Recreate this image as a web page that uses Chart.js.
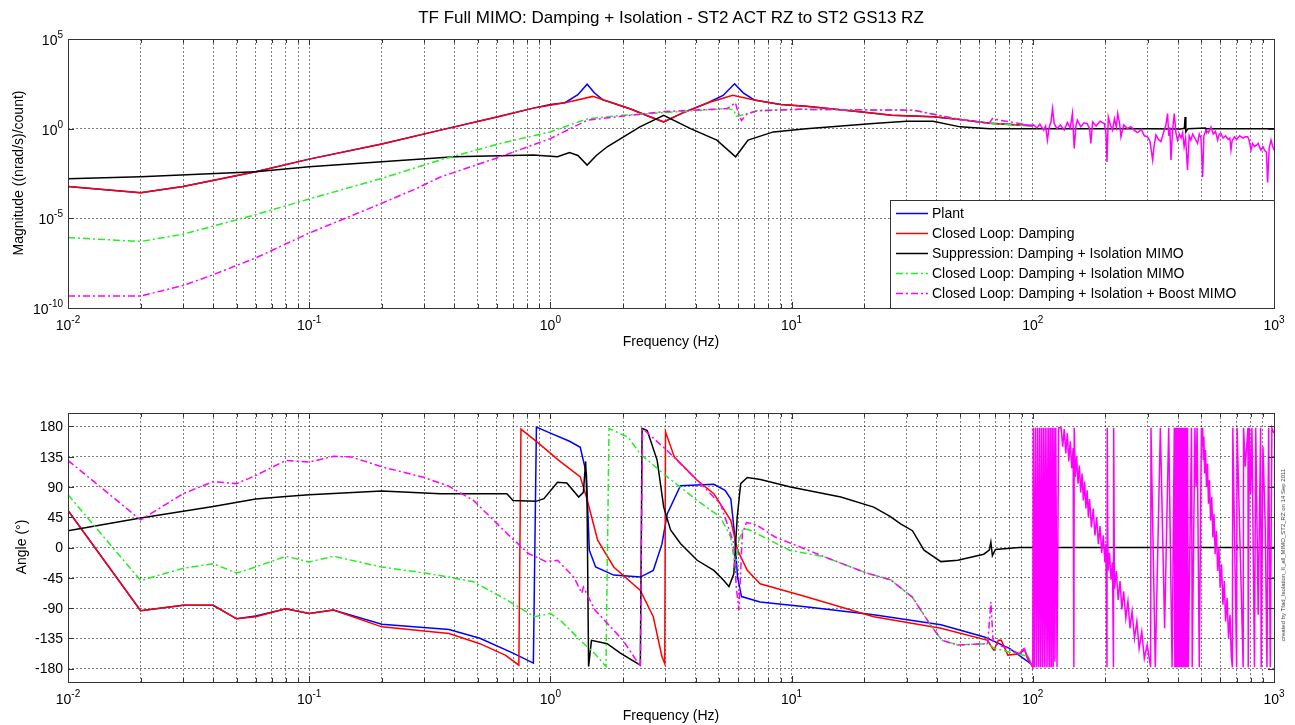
<!DOCTYPE html>
<html>
<head>
<meta charset="utf-8">
<script src="https://cdn.jsdelivr.net/npm/chart.js@4.4.1/dist/chart.umd.min.js"></script>
<style>
html, body { margin: 0; padding: 0; background: #fff; }
body { width: 1295px; height: 725px; position: relative; overflow: hidden; font-family: "Liberation Sans", Arial, sans-serif; }
#magCanvas { position: absolute; left: 0; top: 0; }
#phaseCanvas { position: absolute; left: 0; top: 362px; }
.lbl { position: absolute; color: #000; white-space: nowrap; }
</style>
</head>
<body>
<canvas id="magCanvas" width="1295" height="360"></canvas>
<canvas id="phaseCanvas" width="1295" height="363"></canvas>

<div class="lbl" style="left:68px;width:1206px;top:8px;text-align:center;font-size:17px;">TF Full MIMO: Damping + Isolation - ST2 ACT RZ to ST2 GS13 RZ</div>
<div class="lbl" style="left:68px;width:1206px;top:333px;text-align:center;font-size:14px;">Frequency (Hz)</div>
<div class="lbl" style="left:68px;width:1206px;top:707px;text-align:center;font-size:14px;">Frequency (Hz)</div>
<div class="lbl" style="left:18px;top:173px;font-size:14px;transform:translate(-50%,-50%) rotate(-90deg);">Magnitude ((nrad/s)/count)</div>
<div class="lbl" style="left:21px;top:547px;font-size:14px;transform:translate(-50%,-50%) rotate(-90deg);">Angle (°)</div>
<div class="lbl" style="left:1283px;top:555px;font-size:6px;color:#444;transform:translate(-50%,-50%) rotate(-90deg);">created by Tfad_Isolation_II_all_MIMO_ST2_RZ on 14 Sep 2011</div>

<script>
// ---- magnitude data (frequency in Hz, magnitude in (nrad/s)/count) ----
const magPlantF = [0.01, 0.02, 0.03, 0.06, 0.1, 0.2, 0.35, 0.6, 0.85, 1.0, 1.15, 1.3, 1.42, 1.52, 1.65, 1.8, 2.15, 2.6, 2.95, 3.5, 4.5, 5.2, 5.8, 6.3, 7, 9, 11.5, 20.5, 26, 38.6, 50, 66, 100];
const magPlant = [5.9e-4, 2.7e-4, 5.9e-4, 4.0e-3, 2.0e-2, 0.14, 0.83, 4.5, 14, 22, 28, 79, 300, 100, 40, 28, 12.6, 4.5, 2.4, 7.1, 28, 71, 316, 100, 40, 22.4, 17.8, 7.9, 5.6, 4.6, 3.2, 2.0, 1.45];

const magDampF = [0.01, 0.02, 0.03, 0.06, 0.1, 0.2, 0.35, 0.6, 0.85, 1.0, 1.2, 1.5, 1.8, 2.15, 2.6, 2.95, 3.5, 4.5, 5.7, 7, 9, 11.5, 20.5, 26, 38.6, 50, 66, 100];
const magDamp = [5.9e-4, 2.7e-4, 5.9e-4, 4.0e-3, 2.0e-2, 0.14, 0.83, 4.5, 14, 20.4, 31.6, 63, 28, 12.6, 4.5, 2.4, 7.1, 28, 72, 40, 22.4, 17.8, 7.9, 5.6, 4.6, 3.2, 2.0, 1.45];

const magSuppF = [0.01, 0.02, 0.06, 0.1, 0.2, 0.4, 0.85, 1.07, 1.2, 1.3, 1.42, 1.55, 1.72, 2.35, 2.95, 3.81, 4.9, 5.86, 6.6, 8.4, 11.5, 21.8, 30, 38.6, 50, 66, 100, 200, 300, 410, 425, 428, 431, 440, 520, 522, 525, 700, 1000];
const magSupp = [1.6e-3, 2.1e-3, 4.0e-3, 7.6e-3, 1.45e-2, 2.7e-2, 3.4e-2, 2.7e-2, 4.6e-2, 3.2e-2, 9.3e-3, 3.2e-2, 9.8e-2, 1.26, 5.6, 1.0, 0.23, 2.7e-2, 0.23, 0.66, 1.0, 1.95, 2.6, 2.6, 1.26, 1.0, 1.0, 1.0, 1.0, 0.97, 1.05, 4.5, 0.65, 1.0, 1.1, 0.9, 1.0, 1.0, 1.0];

const magIsoF = [0.01, 0.02, 0.03, 0.06, 0.1, 0.2, 0.35, 0.62, 1.0, 1.42, 2.0, 3.0, 5.4, 5.75, 5.9, 6.2, 7.2, 10.8, 20, 32, 50, 66, 100];
const magIso = [8.5e-7, 5.1e-7, 1.3e-6, 1.6e-5, 1.2e-4, 1.7e-3, 1.8e-2, 0.15, 0.66, 3.5, 5.6, 7.9, 13.2, 11.2, 5.0, 5.6, 10, 12, 11.2, 10.7, 3.2, 2.0, 1.38];

const magBoostF = [0.01, 0.02, 0.03, 0.04, 0.06, 0.1, 0.2, 0.28, 0.35, 0.62, 1.0, 1.42, 2.15, 2.95, 5.4, 5.85, 6.0, 6.2, 6.5, 7.2, 10.8, 20, 32, 50, 66, 68, 75,
  89, 95, 101, 104, 107, 111, 113, 115, 117, 119, 120.7, 122.7, 126, 130, 135, 139, 143, 146, 148.5, 151, 153, 158, 163, 168, 172, 174, 177, 183, 190, 198, 201, 203, 205.6, 210, 214, 218, 222, 225, 229, 232, 238, 247, 255, 263, 272, 282, 290, 299, 306, 314, 318, 324, 332, 340, 348, 356, 362, 366, 370, 374, 380, 386, 392, 398, 405, 412, 418, 424, 430, 438, 445, 452, 460, 470, 482, 490, 498, 506, 512, 522, 535, 548, 560, 572, 584, 593, 603, 615, 630, 645, 656, 663, 670, 685, 700, 720, 745, 760, 778, 790, 803, 815, 829, 845, 860, 872, 884, 900, 915, 930, 941, 955, 972, 985, 1000];
const magBoost = [4.6e-10, 4.6e-10, 1.8e-9, 7.2e-9, 6.2e-8, 1.5e-6, 6.9e-5, 4.8e-4, 2.0e-3, 2.7e-2, 0.28, 2.95, 5.6, 8.9, 13.2, 28, 7.9, 2.8, 6.3, 10, 12, 11.2, 10.7, 3.2, 2.0, 3.6, 2.8,
  1.9, 1.5, 1.6, 1.1, 1.8, 0.83, 1.4, 0.23, 1.2, 2.4, 13, 1.9, 1.0, 1.6, 0.83, 2.2, 1.1, 7.0, 0.08, 1.5, 3.0, 1.3, 2.1, 1.9, 1.0, 0.15, 2.4, 1.4, 2.6, 1.9, 0.6, 0.014, 4.5, 1.5, 0.83, 3.5, 1.2, 7.0, 2.0, 0.35, 1.6, 1.0, 1.3, 0.83, 0.6, 0.9, 0.4, 0.35, 0.2, 0.018, 0.1, 0.45, 0.25, 0.19, 0.6, 1.5, 7.0, 0.4, 1.2, 0.018, 0.9, 7.0, 0.6, 0.23, 0.5, 0.3, 0.6, 0.1, 0.3, 0.005, 0.4, 0.23, 0.5, 0.3, 0.15, 0.5, 0.3, 0.002, 0.4, 0.83, 0.6, 1.24, 0.5, 0.7, 0.23, 0.5, 0.53, 0.3, 0.4, 0.25, 0.3, 0.064, 0.2, 0.35, 0.25, 0.4, 0.3, 0.35, 0.35, 0.2, 0.064, 0.15, 0.1, 0.12, 0.15, 0.09, 0.064, 0.1, 0.06, 0.05, 0.001, 0.08, 0.23, 0.12, 0.064];

// ---- phase data (frequency in Hz, angle in degrees) ----
const phPlantF = [0.01, 0.02, 0.03, 0.04, 0.05, 0.06, 0.08, 0.1, 0.126, 0.2, 0.38, 0.51, 0.7, 0.85, 0.875, 1.0, 1.2, 1.33, 1.41, 1.45, 1.54, 1.83, 2.36, 2.67, 2.9, 3.05, 3.46, 4.76, 5.3, 5.6, 5.8, 5.97, 6.2, 7.4, 11.4, 21.9, 41.6, 63, 80, 100];
const phPlant = [55, -94, -86, -86, -106, -102, -91, -98, -93, -114, -122, -135, -157, -172, 179, 170, 158, 149, 110, -4, -29, -41, -44, -34, 5, 50, 92, 94, 85, 72, 20, -44, -73, -81, -88, -100, -115, -133, -150, -175];

const phDampF = [0.01, 0.02, 0.03, 0.04, 0.05, 0.06, 0.08, 0.1, 0.126, 0.2, 0.38, 0.51, 0.65, 0.74, 0.755, 0.9, 1.08, 1.33, 1.41, 1.57, 1.83, 2.36, 2.67, 2.9, 2.98, 3.0, 3.27, 4.06, 4.76, 5.6, 5.97, 6.55, 7.4, 11.4, 21.9, 41.6, 65, 68, 69, 72, 74, 78.8, 88, 92.5, 95, 100];
const phDamp = [55, -94, -86, -86, -106, -103, -91, -98, -93, -118, -128, -143, -160, -175, 176, 154, 130, 105, 75, 11, -29, -64, -103, -162, -173, 172, 134, 100, 80, 40, -4, -34, -54, -73, -103, -120, -138, -150, -153, -138, -138, -160, -158, -152, -165, -178];

const phSuppF = [0.01, 0.02, 0.04, 0.06, 0.08, 0.1, 0.2, 0.35, 0.66, 0.70, 0.87, 0.94, 1.07, 1.17, 1.31, 1.37, 1.40, 1.42, 1.44, 1.48, 1.72, 1.95, 2.36, 2.40, 2.52, 2.77, 2.95, 3.15, 3.46, 4.06, 4.76, 5.2, 5.5, 5.76, 5.95, 6.15, 6.55, 7.43, 9.9, 16, 21.9, 25.7, 28.3, 31.7, 35.4, 41.6, 48.9, 62.6, 66, 67, 68, 70, 87.7, 100, 120, 121, 122, 123, 200, 420, 421, 422, 423, 700, 701, 702, 703, 1000];
const phSupp = [25, 44, 61, 72, 76, 78.5, 84, 80, 80, 70, 68.6, 72.6, 97, 96, 75, 82, 128, 60, -177, -138, -143, -157, -175, 177, 174, 130, 60, 26, 6, -19, -34, -48, -58, -39, 45, 95, 104, 101, 90, 75, 60, 46, 35, 25, -4, -21, -19, -10, -4, 8, -12, -3, 0, 0, 0, 4, -4, 0, 0, 0, 5, -5, 0, 0, 4, -4, 0, 0];

const phIsoF = [0.01, 0.02, 0.03, 0.04, 0.05, 0.06, 0.08, 0.1, 0.126, 0.2, 0.3, 0.38, 0.48, 0.66, 0.86, 1.0, 1.12, 1.33, 1.53, 1.7, 1.75, 2.1, 2.36, 3.05, 4.06, 5.07, 5.58, 5.85, 6.05, 6.3, 6.7, 9.8, 13.7, 20.5, 25.7, 31.7, 37.6, 42, 48.9, 65, 69.3, 78.8, 95.6, 100];
const phIso = [78.5, -49, -31, -24, -38, -29, -13, -21.5, -13, -29, -38, -44, -51, -78, -103, -98, -111, -138, -158, -177, 177, 164, 139, 105, 70, 45, 16, -29, 11, 28, 26, -4, -14, -38, -48, -74, -115, -138, -145, -143, -150, -155, -162, -178];

const phBoostF = [0.01, 0.02, 0.03, 0.04, 0.05, 0.06, 0.08, 0.1, 0.126, 0.15, 0.2, 0.3, 0.38, 0.48, 0.66, 0.81, 0.96, 1.07, 1.25, 1.35, 1.37, 1.53, 2.0, 2.36, 2.41, 3.05, 4.06, 5.07, 5.76, 5.9, 6.05, 6.25, 6.5, 6.75, 7.2, 8.5, 13.7, 20.5, 25.7, 31.7, 37.6, 42, 48.9, 65, 67, 68.5, 72, 78.8, 88, 92, 95];
const phBoost = [129.5, 41, 80, 98, 95, 107, 129.5, 127, 135.5, 134.5, 120, 104, 91, 70, 21, -9, -21, -19, -44, -68, -59, -93, -138, -177, 177, 144, 100, 65, 6, -60, -93, 21, 37, 36, 33, 16, -14, -38, -48, -74, -115, -138, -145, -143, -81, -140, -145, -150, -158, -150, -162];

// wrapped, noisy phase above 100 Hz
const phBoostHfF = [
  100, 100.5, 101.5, 102.5, 103.5, 104.5, 105.5, 106.5, 107.5, 108.5, 109.5, 110.5, 111.5, 112.5, 113.5, 114.5, 115.5, 116.5, 117.5, 118.5, 119.5, 120.5, 121.5, 122.5, 123.5, 124.5, 126, 128,
  131, 133, 135, 137, 139, 141, 143, 145, 147, 148, 148.5, 150, 152, 154, 156, 158, 160, 162, 164, 166, 168, 170, 172, 175, 178, 181, 184, 187, 190, 193, 196, 199, 201, 203, 203.5, 205, 208, 211, 214, 216, 216.5, 218, 222, 226, 230, 234, 238, 243, 248, 253, 258, 264, 270, 276, 283, 290, 298, 308,
  309, 322, 338, 352, 366, 378, 386,
  388, 390, 392, 394, 396, 398, 400, 402, 404, 406, 408.5, 411, 413.5, 416, 418.5, 421, 423.5, 426, 429, 432, 435, 438, 441,
  455, 458, 470, 475, 480, 490, 500,
  503, 506, 509, 512, 516, 520, 525, 530, 535, 540, 546, 552, 558, 564, 570, 577, 584, 591, 598, 606, 614, 622, 630, 639, 648, 657, 665, 672,
  675, 700, 703, 745, 748, 760, 780, 782, 790, 800, 810, 830, 840, 860, 880, 885, 900, 920, 935, 950, 965, 980, 1000];
const phBoostHf = [
  -178, 178, -178, 178, -178, 178, -178, 178, -178, 178, -178, 178, -178, 178, -178, 178, -178, 178, -178, 178, -178, 178, -178, 178, -170, 178, -178, 178,
  178, 150, 176, 140, 170, 128, 158, 118, 148, -178, 178, 105, 135, 95, 122, 82, 110, 70, 98, 58, 85, 45, 72, 30, 58, 18, 45, 5, 32, -8, 18, -22, 5, -178, 178, -35, -8, -48, -22, -178, 178, -62, -35, -78, -50, -92, -65, -105, -80, -120, -95, -135, -110, -150, -125, -165, -145, -178,
  178, -178, 178, -120, 178, -178, 178,
  -178, 178, -178, 178, -178, 178, -178, 178, -178, 178, -178, 178, -178, 178, -178, 178, -178, 178, -178, 178, -178, 178, -178,
  178, -178, 178, 90, 178, -178, 178,
  150, 178, 130, 165, 110, 145, 90, 125, 65, 100, 40, 75, 15, 50, -10, 25, -35, 0, -60, -25, -85, -50, -110, -75, -135, -100, -160, -178,
  178, -178, 178, -178, 178, 120, 178, -178, 178, 80, 178, -178, 178, -100, 178, -178, 150, 30, -178, 178, -178, 178, 170];

// ---- axis ticks ----
const freqTicks = [];
for (let e = -2; e <= 2; e++) {
  for (let m = 1; m <= 9; m++) freqTicks.push(Number((m * Math.pow(10, e)).toPrecision(3)));
}
freqTicks.push(1000);
const magTicks = [1e-10, 1e-5, 1, 1e5];
const magTickExp = [-10, -5, 0, 5];
const phaseTicks = [-180, -135, -90, -45, 0, 45, 90, 135, 180];

const FONT = '"Liberation Sans", Arial, sans-serif';
const gridColor = 'rgba(0,0,0,0.5)';
const dashDot = [7, 3, 2, 3];

Chart.defaults.font.family = FONT;

function pts(fs, vs) {
  return fs.map((f, i) => ({ x: f, y: vs[i] }));
}

function makeSet(label, color, data, order, dashed) {
  const d = {
    label: label,
    data: data,
    borderColor: color,
    backgroundColor: color,
    borderWidth: 1.5,
    pointRadius: 0,
    tension: 0,
    fill: false,
    order: order,
    borderDash: dashed ? dashDot : []
  };
  if (dashed) {
    // noisy high-frequency part is drawn solid, like the measured trace
    d.segment = { borderDash: c => (c.p0.parsed.x >= 80 ? [] : dashDot) };
  }
  return d;
}

function freqScale(h) {
  return {
    type: 'logarithmic',
    min: 0.01,
    max: 1000,
    afterBuildTicks: s => { s.ticks = freqTicks.map(v => ({ value: v })); },
    afterFit: s => { s.height = h; },
    ticks: { display: false },
    grid: { color: gridColor, drawTicks: false, lineWidth: 1 },
    border: { display: false, dash: [2, 2] }
  };
}

function drawPow(ctx, exp, x, y, align) {
  ctx.font = '14px ' + FONT;
  const wb = ctx.measureText('10').width;
  ctx.font = '10px ' + FONT;
  const ws = ctx.measureText(String(exp)).width;
  const total = wb + ws;
  let x0 = x - total / 2;
  if (align === 'right') x0 = x - total;
  ctx.textAlign = 'left';
  ctx.textBaseline = 'alphabetic';
  ctx.font = '14px ' + FONT;
  ctx.fillText('10', x0, y);
  ctx.font = '10px ' + FONT;
  ctx.fillText(String(exp), x0 + wb, y - 7);
}

// axis box, inward ticks and tick labels
const frameLabels = {
  id: 'frameLabels',
  afterDraw(chart, args, opts) {
    const ctx = chart.ctx;
    const a = chart.chartArea;
    const xs = chart.scales.x;
    const ys = chart.scales.y;
    ctx.save();
    ctx.strokeStyle = '#333';
    ctx.lineWidth = 1;
    ctx.setLineDash([]);
    ctx.beginPath();
    freqTicks.forEach(v => {
      const px = Math.round(xs.getPixelForValue(v)) + 0.5;
      const len = [0.01, 0.1, 1, 10, 100, 1000].includes(v) ? 6 : 4;
      ctx.moveTo(px, a.bottom); ctx.lineTo(px, a.bottom - len);
      ctx.moveTo(px, a.top); ctx.lineTo(px, a.top + len);
    });
    opts.yTicks.forEach(v => {
      const py = Math.round(ys.getPixelForValue(v)) + 0.5;
      ctx.moveTo(a.left, py); ctx.lineTo(a.left + 6, py);
      ctx.moveTo(a.right, py); ctx.lineTo(a.right - 6, py);
    });
    ctx.stroke();
    ctx.strokeRect(Math.round(a.left) + 0.5, Math.round(a.top) + 0.5, Math.round(a.right - a.left), Math.round(a.bottom - a.top));

    ctx.fillStyle = '#000';
    [0.01, 0.1, 1, 10, 100, 1000].forEach((v, i) => {
      drawPow(ctx, i - 2, xs.getPixelForValue(v), a.bottom + 22, 'center');
    });
    opts.yTicks.forEach((v, i) => {
      const py = ys.getPixelForValue(v);
      if (opts.yPow) {
        drawPow(ctx, opts.yPow[i], a.left - 5, py + 6, 'right');
      } else {
        ctx.font = '14px ' + FONT;
        ctx.textAlign = 'right';
        ctx.textBaseline = 'middle';
        ctx.fillText(String(v), a.left - 5, py + 1);
      }
    });
    ctx.restore();
  }
};

// legend drawn inside the lower right corner of the magnitude axes
const insideLegend = {
  id: 'insideLegend',
  afterDraw(chart, args, opts) {
    if (!opts.show) return;
    const ctx = chart.ctx;
    const a = chart.chartArea;
    const w = 384, h = 108;
    const x0 = Math.round(a.right - w), y0 = Math.round(a.bottom - h);
    ctx.save();
    ctx.fillStyle = '#fff';
    ctx.fillRect(x0, y0, w, h);
    ctx.strokeStyle = '#333';
    ctx.lineWidth = 1;
    ctx.strokeRect(x0 + 0.5, y0 + 0.5, w, h);
    ctx.font = '14px ' + FONT;
    ctx.textAlign = 'left';
    ctx.textBaseline = 'middle';
    chart.data.datasets.forEach((d, i) => {
      const y = y0 + 13.5 + i * 20;
      ctx.strokeStyle = d.borderColor;
      ctx.lineWidth = 1.5;
      ctx.setLineDash(d.borderDash);
      ctx.beginPath();
      ctx.moveTo(x0 + 6, y);
      ctx.lineTo(x0 + 38, y);
      ctx.stroke();
      ctx.setLineDash([]);
      ctx.fillStyle = '#000';
      ctx.fillText(d.label, x0 + 42, y + 1);
    });
    ctx.restore();
  }
};

const names = [
  'Plant',
  'Closed Loop: Damping',
  'Suppression: Damping + Isolation MIMO',
  'Closed Loop: Damping + Isolation MIMO',
  'Closed Loop: Damping + Isolation + Boost MIMO'
];
const colors = ['#0000ff', '#ff0000', '#000000', '#22ee22', '#ff00ff'];

new Chart(document.getElementById('magCanvas'), {
  type: 'line',
  data: {
    datasets: [
      makeSet(names[0], colors[0], pts(magPlantF, magPlant), 4, false),
      makeSet(names[1], colors[1], pts(magDampF, magDamp), 3, false),
      makeSet(names[2], colors[2], pts(magSuppF, magSupp), 2, false),
      makeSet(names[3], colors[3], pts(magIsoF, magIso), 1, true),
      makeSet(names[4], colors[4], pts(magBoostF, magBoost), 0, true)
    ]
  },
  options: {
    responsive: false,
    animation: false,
    devicePixelRatio: 1,
    events: [],
    layout: { padding: { left: 0, right: 21, top: 39, bottom: 0 } },
    plugins: {
      legend: { display: false },
      tooltip: { enabled: false },
      frameLabels: { yTicks: magTicks, yPow: magTickExp },
      insideLegend: { show: true }
    },
    scales: {
      x: freqScale(52),
      y: {
        type: 'logarithmic',
        min: 1e-10,
        max: 1e5,
        afterBuildTicks: s => { s.ticks = magTicks.map(v => ({ value: v })); },
        afterFit: s => { s.width = 68; },
        ticks: { display: false },
        grid: { color: gridColor, drawTicks: false, lineWidth: 1 },
        border: { display: false, dash: [2, 2] }
      }
    }
  },
  plugins: [frameLabels, insideLegend]
});

new Chart(document.getElementById('phaseCanvas'), {
  type: 'line',
  data: {
    datasets: [
      makeSet(names[0], colors[0], pts(phPlantF, phPlant), 4, false),
      makeSet(names[1], colors[1], pts(phDampF, phDamp), 3, false),
      makeSet(names[2], colors[2], pts(phSuppF, phSupp), 2, false),
      makeSet(names[3], colors[3], pts(phIsoF, phIso), 1, true),
      makeSet(names[4], colors[4], pts(phBoostF.concat(phBoostHfF), phBoost.concat(phBoostHf)), 0, true)
    ]
  },
  options: {
    responsive: false,
    animation: false,
    devicePixelRatio: 1,
    events: [],
    layout: { padding: { left: 0, right: 21, top: 51, bottom: 0 } },
    plugins: {
      legend: { display: false },
      tooltip: { enabled: false },
      frameLabels: { yTicks: phaseTicks },
      insideLegend: { show: false }
    },
    scales: {
      x: freqScale(43),
      y: {
        type: 'linear',
        min: -200,
        max: 200,
        afterBuildTicks: s => { s.ticks = phaseTicks.map(v => ({ value: v })); },
        afterFit: s => { s.width = 68; },
        ticks: { display: false },
        grid: { color: gridColor, drawTicks: false, lineWidth: 1 },
        border: { display: false, dash: [2, 2] }
      }
    }
  },
  plugins: [frameLabels, insideLegend]
});
</script>
</body>
</html>
